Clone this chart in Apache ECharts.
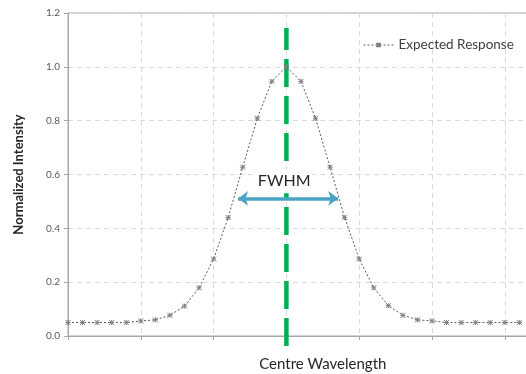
<!DOCTYPE html>
<html><head><meta charset="utf-8">
<script src="https://cdn.jsdelivr.net/npm/echarts@6/dist/echarts.min.js"></script>
<style>html,body{margin:0;padding:0;background:#fff}#c{width:526px;height:374px}</style>
</head><body><div id="c"></div>
<script>
const xIndex = [0,1,2,3,4,5,6,7,8,9,10,11,12,13,14,15,16,17,18,19,20,21,22,23,24,25,26,27,28,29,30,31];
const response = [0.05,0.05,0.05,0.05,0.05,0.056,0.06,0.077,0.111,0.179,0.286,0.44,0.627,0.809,0.946,1.0,0.946,0.809,0.627,0.44,0.286,0.179,0.113,0.077,0.06,0.056,0.05,0.05,0.05,0.05,0.05,0.05];
const yTicks = [0,0.2,0.4,0.6,0.8,1.0,1.2];
const seriesName = 'Expected Response';
const centre = 15;
const centreLineY = [-0.037, 1.144];
const halfMaxY = 0.511;
const fwhmLeft = 11.68, fwhmRight = 18.56;

const chart = echarts.init(document.getElementById('c'), null, {renderer:'canvas'});
const font = 'Lato, "Open Sans", sans-serif';
const legendOpt = {show:true, left:358, top:33, itemWidth:30, itemHeight:5, itemGap:4, z:20,
    lineStyle:{width:1},
    textStyle:{fontFamily:font, fontSize:13.5, color:'#404040'},
    data:[{name:seriesName}]};
chart.setOption({
  animation:false,
  grid:{left:68, top:13, bottom:38, right:-51.6, show:true, borderColor:'#a6a6a6', borderWidth:1, containLabel:false, outerBoundsMode:'none'},
  legend:legendOpt,
  xAxis:{type:'value', min:0, max:35, interval:5,
    name:'Centre Wavelength', nameLocation:'middle', nameGap:21,
    nameTextStyle:{fontFamily:font, fontSize:15, color:'#262626'},
    axisLine:{show:true, lineStyle:{color:'#a6a6a6'}},
    axisTick:{show:true, length:4, lineStyle:{color:'#a6a6a6'}},
    axisLabel:{show:false},
    splitLine:{show:true, lineStyle:{color:'#d9d9d9', type:[5,4]}}},
  yAxis:{type:'value', min:yTicks[0], max:yTicks[yTicks.length-1], interval:0.2,
    name:'Normalized Intensity', nameLocation:'middle', nameGap:43,
    nameTextStyle:{fontFamily:font, fontSize:13, fontWeight:'bold', color:'#262626'},
    axisLine:{show:true, lineStyle:{color:'#a6a6a6'}},
    axisTick:{show:true, length:4, lineStyle:{color:'#a6a6a6'}},
    axisLabel:{fontFamily:font, fontSize:10, color:'#595959', margin:8, formatter:v=>v.toFixed(1)},
    splitLine:{show:true, lineStyle:{color:'#d9d9d9', type:[5,4]}}},
  series:[{
    name:seriesName, type:'line',
    data:xIndex.map((x,i)=>[x,response[i]]),
    symbol:'path://M0,0L10,10M10,0L0,10M5,0L5,10M0,5L10,5', symbolSize:5,
    itemStyle:{color:'#7f7f7f', borderColor:'#7f7f7f', borderWidth:1},
    lineStyle:{color:'#595959', width:1, type:[2,2]},
    clip:false,
    markLine:{silent:true, symbol:['none','none'], label:{show:false}, z:6,
      data:[
        [{coord:[fwhmLeft,halfMaxY], symbol:'arrow', symbolSize:[11,10], lineStyle:{color:'#4aa5c2', width:3.5, type:'solid'}},{coord:[fwhmRight,halfMaxY], symbol:'arrow', symbolSize:[11,10]}]
      ]},
    markPoint:{silent:true, symbol:'rect', symbolSize:1, z:7, itemStyle:{color:'rgba(0,0,0,0)'},
      label:{show:true, formatter:'FWHM', fontFamily:font, fontSize:16, color:'#262626', position:'inside',
        backgroundColor:'#fff', padding:[4,2]},
      data:[{coord:[centre-0.15, 0.575]}]}
  }]
});
const p0 = chart.convertToPixel({gridIndex:0}, [centre, centreLineY[0]]);
const p1 = chart.convertToPixel({gridIndex:0}, [centre, centreLineY[1]]);
chart.setOption({legend:legendOpt, graphic:[{type:'line', silent:true, z:3,
  shape:{x1:p0[0], y1:p0[1], x2:p1[0], y2:p1[1]},
  style:{stroke:'#00b050', lineWidth:4.5, lineDash:[28,9]}}]});
</script></body></html>
